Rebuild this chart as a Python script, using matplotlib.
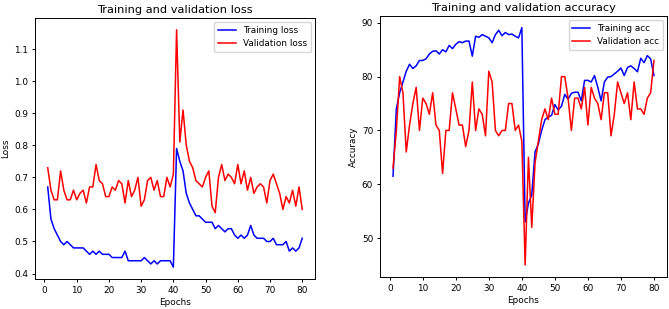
import numpy as np
import matplotlib.pyplot as plt

# Valores (80 épocas)
epochs = np.arange(1, 81)

train_loss = [0.67, 0.57, 0.54, 0.52, 0.50, 0.49, 0.50, 0.49, 0.48, 0.48,
              0.48, 0.48, 0.47, 0.46, 0.47, 0.46, 0.47, 0.46, 0.46, 0.46,
              0.45, 0.45, 0.45, 0.45, 0.47, 0.44, 0.44, 0.44, 0.44, 0.44,
              0.45, 0.44, 0.43, 0.44, 0.43, 0.44, 0.44, 0.44, 0.44, 0.42,
              0.79, 0.75, 0.72, 0.65, 0.62, 0.60, 0.58, 0.58, 0.57, 0.56,
              0.56, 0.56, 0.54, 0.55, 0.54, 0.53, 0.54, 0.54, 0.52, 0.51,
              0.52, 0.51, 0.52, 0.55, 0.52, 0.51, 0.51, 0.51, 0.50, 0.50,
              0.51, 0.49, 0.49, 0.49, 0.50, 0.47, 0.48, 0.47, 0.48, 0.51]

val_loss = [0.73, 0.66, 0.63, 0.63, 0.72, 0.66, 0.63, 0.63, 0.66, 0.63,
            0.65, 0.66, 0.62, 0.67, 0.67, 0.74, 0.69, 0.68, 0.64, 0.64,
            0.67, 0.66, 0.69, 0.68, 0.62, 0.69, 0.64, 0.66, 0.70, 0.61,
            0.63, 0.69, 0.70, 0.66, 0.69, 0.64, 0.64, 0.70, 0.67, 0.71,
            1.16, 0.81, 0.91, 0.80, 0.75, 0.73, 0.69, 0.68, 0.67, 0.70,
            0.72, 0.61, 0.59, 0.70, 0.74, 0.69, 0.71, 0.70, 0.68, 0.74,
            0.68, 0.72, 0.66, 0.70, 0.65, 0.67, 0.68, 0.67, 0.62, 0.69,
            0.71, 0.68, 0.65, 0.60, 0.64, 0.62, 0.66, 0.61, 0.67, 0.60]

train_acc = [61.5, 74.0, 77.0, 79.0, 81.0, 82.3, 81.5, 82.0, 83.0, 83.0,
             83.3, 84.2, 84.7, 84.8, 84.2, 85.0, 84.6, 85.8, 85.2, 86.0,
             86.5, 86.3, 86.6, 86.6, 83.8, 87.5, 87.3, 87.8, 87.5, 87.2,
             86.3, 87.8, 88.6, 87.6, 88.2, 87.8, 87.9, 87.5, 87.2, 89.1,
             53.0, 56.5, 58.0, 66.0, 67.5, 70.0, 72.0, 72.5, 72.8, 74.8,
             73.8, 74.5, 76.7, 75.8, 76.9, 77.1, 77.1, 75.5, 79.3, 79.3,
             79.0, 80.2, 78.0, 75.5, 79.0, 79.9, 80.0, 80.5, 81.0, 81.6,
             80.2, 81.7, 82.0, 81.5, 80.9, 83.4, 82.6, 83.9, 83.3, 80.2]

val_acc = [63, 70, 80, 77, 66, 71, 75, 78, 70, 76,
           75, 73, 77, 71, 70, 62, 70, 70, 77, 74,
           71, 71, 67, 70, 79, 70, 74, 73, 69, 81,
           79, 70, 69, 70, 70, 75, 75, 70, 71, 68,
           45, 65, 52, 64, 68, 72, 74, 72, 76, 73,
           73, 80, 80, 76, 70, 76, 76, 74, 78, 71,
           78, 76, 75, 72, 77, 77, 69, 73, 79, 77,
           75, 77, 72, 79, 74, 74, 73, 76, 77, 83]

plt.rcParams['font.size'] = 6.4
plt.rcParams['xtick.major.size'] = 2.5
plt.rcParams['ytick.major.size'] = 2.5
plt.rcParams['xtick.major.pad'] = 2.5
plt.rcParams['ytick.major.pad'] = 2.5
plt.rcParams['axes.labelpad'] = 2.5
plt.rcParams['axes.linewidth'] = 0.7
plt.rcParams['xtick.major.width'] = 0.7
plt.rcParams['ytick.major.width'] = 0.7

fig = plt.figure(figsize=(6.69, 3.09), dpi=100)
ticks_x = [0, 10, 20, 30, 40, 50, 60, 70, 80]

# /// Pérdida ///
ax1 = fig.add_axes([0.0523, 0.097, 0.4185, 0.845])
ax1.plot(epochs, train_loss, 'b', lw=1.1, label='Training loss')
ax1.plot(epochs, val_loss, 'r', lw=1.1, label='Validation loss')
ax1.set_title('Training and validation loss', fontsize=8.2, pad=3.5)
ax1.set_xlabel('Epochs')
ax1.set_ylabel('Loss')
ax1.set_xticks(ticks_x)
ax1.legend(loc='upper right', fontsize=6.4)

# /// Precisión ///
ax2 = fig.add_axes([0.568, 0.104, 0.429, 0.845])
ax2.plot(epochs, train_acc, 'b', lw=1.1, label='Training acc')
ax2.plot(epochs, val_acc, 'r', lw=1.1, label='Validation acc')
ax2.set_title('Training and validation accuracy', fontsize=8.2, pad=3.5)
ax2.set_xlabel('Epochs')
ax2.set_ylabel('Accuracy')
ax2.set_xticks(ticks_x)
ax2.legend(loc='upper right', fontsize=6.4)

fig.savefig('out.png', dpi=100)
